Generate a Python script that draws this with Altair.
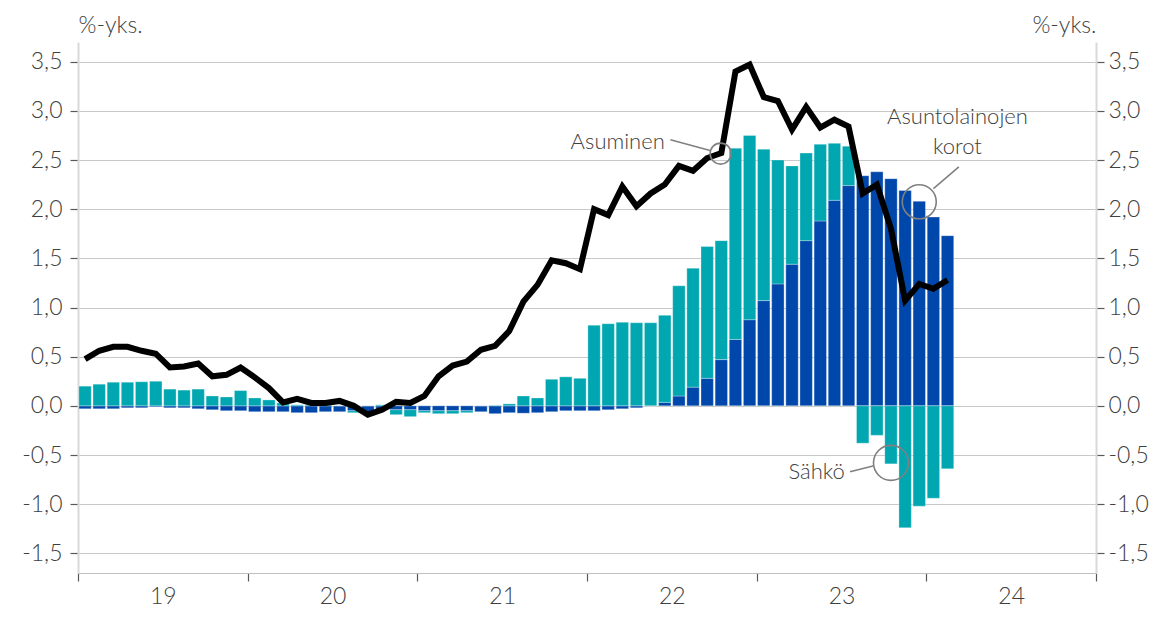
import altair as alt
import pandas as pd

# Monthly data, Jan 2019 .. Feb 2024 (contributions, %-points)
korot = [
    -0.03, -0.03, -0.03, -0.02, -0.02, -0.01, -0.02, -0.02, -0.03, -0.04, -0.05, -0.05,
    -0.06, -0.06, -0.06, -0.07, -0.07, -0.06, -0.06, -0.05, -0.07, -0.04, -0.04, -0.04,
    -0.05, -0.05, -0.05, -0.05, -0.06, -0.08, -0.07, -0.075, -0.07, -0.06, -0.05, -0.05,
    -0.05, -0.04, -0.03, -0.02, 0.0, 0.035, 0.10, 0.19, 0.28, 0.47, 0.675, 0.876,
    1.07, 1.24, 1.44, 1.68, 1.88, 2.09, 2.24, 2.34, 2.38, 2.31, 2.19, 2.08,
    1.92, 1.73,
]
sahko = [
    0.20, 0.22, 0.24, 0.24, 0.245, 0.25, 0.17, 0.16, 0.17, 0.10, 0.09, 0.155,
    0.08, 0.06, 0.03, 0.01, 0.01, 0.01, 0.0, -0.02, 0.0, 0.01, -0.05, -0.07,
    -0.02, -0.03, -0.03, -0.02, 0.0, 0.005, 0.02, 0.10, 0.08, 0.27, 0.295, 0.28,
    0.82, 0.835, 0.85, 0.845, 0.845, 0.885, 1.12, 1.21, 1.34, 1.21, 1.945, 1.874,
    1.54, 1.26, 1.00, 0.89, 0.78, 0.58, 0.40, -0.38, -0.30, -0.59, -1.24, -1.02,
    -0.94, -0.64,
]
asuminen = [
    0.475, 0.56, 0.60, 0.60, 0.56, 0.53, 0.39, 0.40, 0.43, 0.30, 0.315, 0.39,
    0.29, 0.18, 0.035, 0.07, 0.03, 0.03, 0.05, 0.0, -0.09, -0.04, 0.04, 0.03,
    0.10, 0.30, 0.41, 0.45, 0.57, 0.61, 0.76, 1.06, 1.23, 1.48, 1.45, 1.39,
    2.00, 1.94, 2.23, 2.03, 2.16, 2.25, 2.44, 2.39, 2.52, 2.57, 3.40, 3.47,
    3.14, 3.10, 2.81, 3.04, 2.83, 2.91, 2.84, 2.16, 2.25, 1.80, 1.07, 1.24,
    1.19, 1.28,
]
series_names = ["Asuntolainojen korot", "Sähkö"]
series_colors = ["#0047ab", "#00a7b1"]
year_labels = ["19", "20", "21", "22", "23", "24", ""]
y_ticks = [-1.5, -1.0, -0.5, 0.0, 0.5, 1.0, 1.5, 2.0, 2.5, 3.0, 3.5]
x_ticks = [0, 12, 24, 36, 48, 60, 72]

# annotations (data coordinates: month index, value)
circ_x = [45.45, 59.5, 57.5]
circ_y = [2.565, 2.075, -0.58]
circ_d = [21, 34, 35]
lead_x = [41.9, 60.5, 54.6]
lead_y = [2.706, 2.21, -0.671]
lead_x2 = [44.77, 62.3, 56.3]
lead_y2 = [2.594, 2.43, -0.61]
txt_r = ["Asuminen", "Sähkö"]
txt_r_x = [41.5, 54.24]
txt_r_y = [2.686, -0.671]
txt_c = ["Asuntolainojen", "korot"]
txt_c_x = [62.2, 62.2]
txt_c_y = [2.94, 2.635]

FONT = "Lato"
TXT = "#404040"

rows = []
for k in range(len(korot)):
    rows.append({"xc": k + 0.5, "value": korot[k], "series": series_names[0], "ord": 0})
    rows.append({"xc": k + 0.5, "value": sahko[k], "series": series_names[1], "ord": 1})
bars_df = pd.DataFrame(rows)
line_df = pd.DataFrame({"xc": [k + 0.5 for k in range(len(asuminen))], "value": asuminen})
circ_df = pd.DataFrame({"x": circ_x, "y": circ_y, "s": [d * d for d in circ_d]})
lead_df = pd.DataFrame({"x": lead_x, "y": lead_y, "x2": lead_x2, "y2": lead_y2})
tr_df = pd.DataFrame({"x": txt_r_x, "y": txt_r_y, "t": txt_r})
tc_df = pd.DataFrame({"x": txt_c_x, "y": txt_c_y, "t": txt_c})

xscale = alt.Scale(domain=[0, 72], nice=False, zero=False, padding=0)
yscale = alt.Scale(domain=[-1.7, 3.7], nice=False, zero=False, padding=0)

label_arr = "[" + ",".join("'" + s + "'" for s in year_labels) + "]"
xaxis = alt.Axis(
    values=x_ticks, title=None, grid=False,
    labelExpr=label_arr + "[datum.value / 12]",
    labelOffset=1018 / 12, labelPadding=22, labelBaseline="alphabetic",
    labelFlush=False, labelOverlap=False,
    labelFont=FONT, labelFontSize=23, labelFontWeight=300, labelColor=TXT,
    tickSize=8, tickColor="#595959", tickWidth=1.2,
    domainColor="#bfbfbf", domainWidth=1.2,
)
ylabel = "replace(replace(format(datum.value, '.1f'), '.', ','), '\u2212', '-')"
common_y = dict(
    values=y_ticks, labelExpr=ylabel,
    labelFont=FONT, labelFontSize=23, labelFontWeight=300, labelColor=TXT,
    tickSize=8, tickColor="#595959", tickWidth=1.2,
    domainColor="#d9d9d9", domainWidth=2,
    title="%-yks.", titleAngle=0, titleBaseline="alphabetic", titleY=-10, titleX=0,
    titleFont=FONT, titleFontSize=23, titleFontWeight=300, titleColor=TXT,
)
yaxis_left = alt.Axis(orient="left", grid=True, gridColor="#c8c8c8", gridWidth=1,
                      labelPadding=8, titleAlign="left", **common_y)
yaxis_right = alt.Axis(orient="right", grid=False, labelPadding=4,
                       titleAlign="right", **common_y)

X = alt.X("xc:Q", scale=xscale, axis=xaxis)

bars = alt.Chart(bars_df).mark_bar(size=12.4, stroke="white", strokeWidth=0.6,
                                   strokeOpacity=0.5).encode(
    x=X,
    y=alt.Y("value:Q", scale=yscale, axis=yaxis_left, stack="zero"),
    color=alt.Color("series:N", scale=alt.Scale(domain=series_names, range=series_colors),
                    legend=None),
    order=alt.Order("ord:Q"),
)

line = alt.Chart(line_df).mark_line(color="black", strokeWidth=6).encode(
    x=X,
    y=alt.Y("value:Q", scale=yscale, axis=yaxis_right),
)

circles = alt.Chart(circ_df).mark_point(shape="circle", filled=False, stroke="#808080",
                                        strokeWidth=1.6, opacity=1).encode(
    x=alt.X("x:Q", scale=xscale, axis=xaxis),
    y=alt.Y("y:Q", scale=yscale, axis=None),
    size=alt.Size("s:Q", scale=None, legend=None),
)

leads = alt.Chart(lead_df).mark_rule(color="#808080", strokeWidth=1.6).encode(
    x=alt.X("x:Q", scale=xscale, axis=xaxis),
    y=alt.Y("y:Q", scale=yscale, axis=None),
    x2="x2:Q",
    y2="y2:Q",
)

text_r = alt.Chart(tr_df).mark_text(align="right", baseline="middle", font=FONT,
                                    fontSize=22, fontWeight=300, color=TXT).encode(
    x=alt.X("x:Q", scale=xscale, axis=xaxis),
    y=alt.Y("y:Q", scale=yscale, axis=None),
    text="t:N",
)
text_c = alt.Chart(tc_df).mark_text(align="center", baseline="middle", font=FONT,
                                    fontSize=22, fontWeight=300, color=TXT).encode(
    x=alt.X("x:Q", scale=xscale, axis=xaxis),
    y=alt.Y("y:Q", scale=yscale, axis=None),
    text="t:N",
)

chart = alt.layer(bars, line, circles, leads, text_r, text_c).resolve_axis(
    y="independent"
).properties(
    width=1018, height=531,
    padding={"left": 70, "top": 34, "right": 60, "bottom": 36},
    autosize=alt.AutoSizeParams(type="none"),
).configure_view(stroke=None)

chart.save("out.html", embed_options={"renderer": "svg", "actions": False})
